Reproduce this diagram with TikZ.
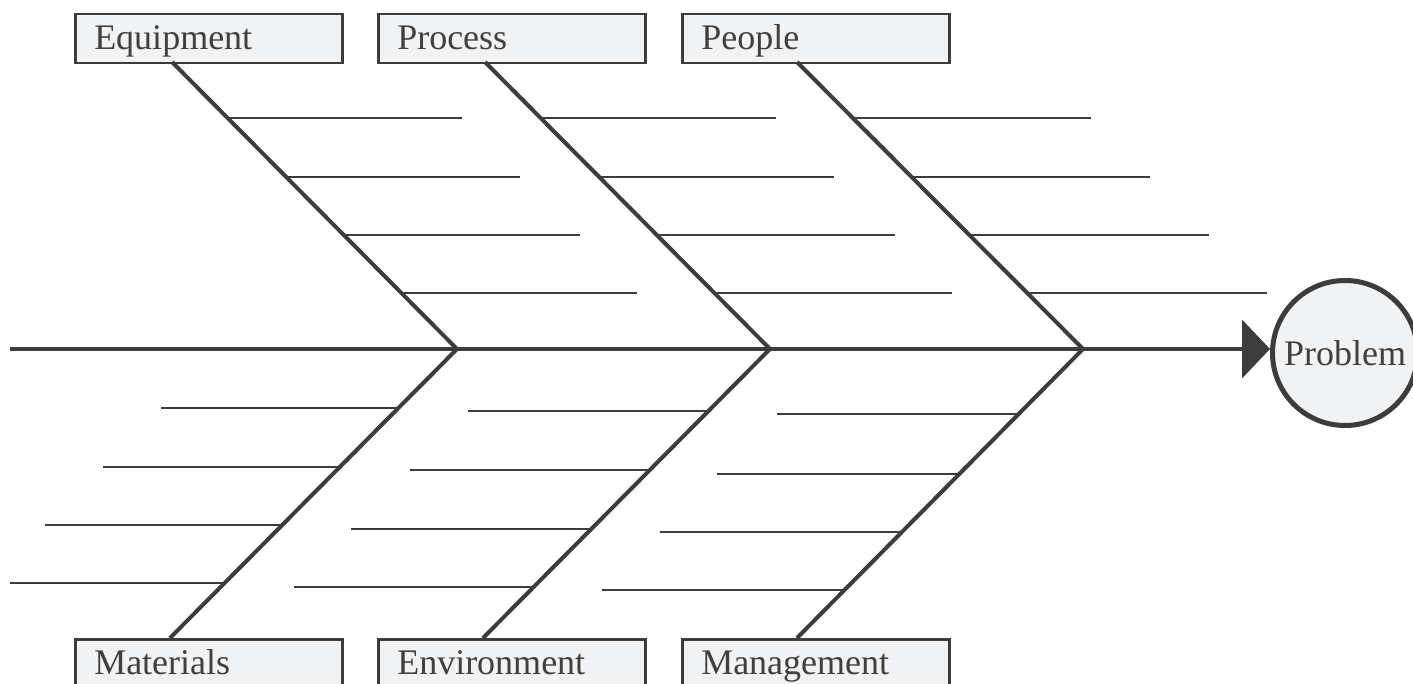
\documentclass[tikz,border=0pt]{standalone}
\usepackage{fontspec}
\setmainfont{Liberation Serif}
\usetikzlibrary{arrows.meta,calc}
\definecolor{ink}{HTML}{3C3C3C}
\definecolor{txt}{HTML}{3F3F3F}
\definecolor{boxfill}{HTML}{F1F2F4}
\begin{document}
\begin{tikzpicture}[x=0.5pt,y=-0.5pt,
  catbox/.style={draw=ink,line width=1.25pt,fill=boxfill,anchor=north west,
    minimum width=133.5pt,minimum height=24.5pt,inner xsep=9.5pt,inner ysep=0pt,
    text width=114.5pt,align=left,text height=15pt,text depth=4pt,
    font=\fontsize{18}{20}\selectfont,text=txt},
  bone/.style={draw=ink,line width=2pt},
  rib/.style={draw=ink,line width=1.3pt},
  spine/.style={draw=ink,line width=2.1pt,-{Triangle[length=14pt,width=29pt]}}]
\useasboundingbox (0,0) rectangle (1413,684);
% category boxes
\node[catbox] (eq) at (74,13) {Equipment};
\node[catbox] (pr) at (377,13) {Process};
\node[catbox] (pe) at (681,13) {People};
\node[catbox] (ma) at (74,638) {Materials};
\node[catbox] (en) at (377,638) {Environment};
\node[catbox] (mg) at (681,638) {Management};
% problem
\node[circle,draw=ink,line width=2.5pt,fill=boxfill,minimum size=72.5pt,inner sep=0pt,
  font=\fontsize{18}{20}\selectfont,text=txt] (prob) at (1345,353) {Problem};
% joints and bone ends
\coordinate (s0) at (10,349);
\coordinate (j1) at (457,349);
\coordinate (j2) at (770,349);
\coordinate (j3) at (1083,349);
\coordinate (t1) at (172,62);
\coordinate (t2) at (485,62);
\coordinate (t3) at (797,62);
\coordinate (u1) at (170,638);
\coordinate (u2) at (483,638);
\coordinate (u3) at (797,638);
% spine
\draw[spine] (s0) -- (s0 -| prob.west);
% bones
\draw[bone] (t1) -- (j1) -- (u1);
\draw[bone] (t2) -- (j2) -- (u2);
\draw[bone] (t3) -- (j3) -- (u3);
% top ribs
\foreach \jj/\tt/\la/\lb in {j1/t1/234/236,j2/t2/235/238,j3/t3/238/240}{
  \foreach \f/\l in {0.805/\la,0.599/\la,0.397/\lb,0.195/\lb}{
    \draw[rib] ($(\jj)!\f!(\tt)$) -- ++(\l,0);
  }
}
% bottom ribs
\foreach \f in {0.204,0.408,0.609}{
  \draw[rib] ($(j1)!\f!(u1)$) -- ++(-237,0);
}
\coordinate (m4) at ($(j1)!0.81!(u1)$);
\draw[rib] (m4) -- (m4 -| s0);
\foreach \f in {0.215,0.419,0.623,0.824}{
  \draw[rib] ($(j2)!\f!(u2)$) -- ++(-240,0);
}
\foreach \f in {0.225,0.433,0.633,0.834}{
  \draw[rib] ($(j3)!\f!(u3)$) -- ++(-242,0);
}
\end{tikzpicture}
\end{document}
